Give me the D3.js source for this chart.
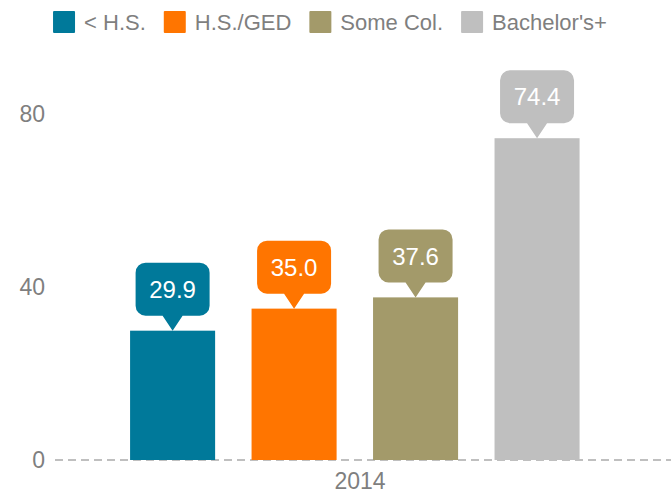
<!DOCTYPE html>
<html>
<head>
<meta charset="utf-8">
<script src="https://cdn.jsdelivr.net/npm/d3@7"></script>
<style>
  html, body { margin: 0; padding: 0; background: #fff; }
  svg { display: block; font-family: "Liberation Sans", Arial, sans-serif; }
</style>
</head>
<body>
<svg id="chart"></svg>
<script>
const years = ['2014'];
const categories = ['< H.S.', 'H.S./GED', 'Some Col.', "Bachelor's+"];
const values = [29.9, 35.0, 37.6, 74.4];
const colors = ['#00799a', '#ff7500', '#a39a6a', '#bfbfbf'];
const yTicks = [0, 40, 80];

const width = 671, height = 494;
const svg = d3.select('#chart').attr('width', width).attr('height', height);

const y = d3.scaleLinear().domain([0, 80]).range([460, 114]);
const x0 = d3.scaleBand().domain(years).range([49, 671]);
const x1 = d3.scaleBand()
  .domain(categories)
  .range([0, x0.bandwidth()])
  .paddingInner(0.3)
  .paddingOuter(0.71)
  .align(0.47);
const color = d3.scaleOrdinal().domain(categories).range(colors);

// baseline
svg.append('line')
  .attr('x1', 55).attr('x2', width)
  .attr('y1', y(0)).attr('y2', y(0))
  .attr('stroke', '#bfbfbf')
  .attr('stroke-width', 2)
  .attr('stroke-dasharray', '8 5');

// y axis
const yAxis = svg.append('g')
  .attr('transform', 'translate(55,0)')
  .call(d3.axisLeft(y).tickValues(yTicks).tickSize(0).tickPadding(10));
yAxis.select('.domain').remove();
yAxis.selectAll('text')
  .style('font-size', '23px')
  .style('font-family', '"Liberation Sans", Arial, sans-serif')
  .attr('fill', '#7f7f7f');

// x axis
const xAxis = svg.append('g')
  .attr('transform', `translate(0,${y(0)})`)
  .call(d3.axisBottom(x0).tickSize(0).tickPadding(13));
xAxis.select('.domain').remove();
xAxis.selectAll('text')
  .style('font-size', '23px')
  .style('font-family', '"Liberation Sans", Arial, sans-serif')
  .attr('fill', '#7f7f7f');

const rows = categories.map((c, i) => ({ year: years[0], cat: c, value: values[i] }));

const groups = svg.selectAll('.year')
  .data(years)
  .enter()
  .append('g')
  .attr('class', 'year')
  .attr('transform', d => `translate(${x0(d)},0)`);

groups.selectAll('rect')
  .data(d => rows.filter(r => r.year === d))
  .enter()
  .append('rect')
  .attr('x', d => x1(d.cat))
  .attr('y', d => y(d.value))
  .attr('width', x1.bandwidth())
  .attr('height', d => y(0) - y(d.value))
  .attr('fill', d => color(d.cat));

// callout bubbles
function bubblePath(cx, tipY) {
  const w = 74, h = 53, r = 10, t = 15, hb = 10;
  const left = cx - w / 2, right = cx + w / 2;
  const bottom = tipY - t, top = bottom - h;
  const p = d3.path();
  p.moveTo(left + r, top);
  p.lineTo(right - r, top);
  p.arcTo(right, top, right, top + r, r);
  p.lineTo(right, bottom - r);
  p.arcTo(right, bottom, right - r, bottom, r);
  p.lineTo(cx + hb, bottom);
  p.lineTo(cx, tipY);
  p.lineTo(cx - hb, bottom);
  p.lineTo(left + r, bottom);
  p.arcTo(left, bottom, left, bottom - r, r);
  p.lineTo(left, top + r);
  p.arcTo(left, top, left + r, top, r);
  p.closePath();
  return p.toString();
}

const callouts = groups.selectAll('.callout')
  .data(d => rows.filter(r => r.year === d))
  .enter()
  .append('g')
  .attr('class', 'callout');

callouts.append('path')
  .attr('d', d => bubblePath(x1(d.cat) + x1.bandwidth() / 2, y(d.value)))
  .attr('fill', d => color(d.cat));

callouts.append('text')
  .attr('x', d => x1(d.cat) + x1.bandwidth() / 2)
  .attr('y', d => y(d.value) - 15 - 26.5)
  .attr('dy', '0.36em')
  .attr('text-anchor', 'middle')
  .attr('fill', '#fff')
  .style('font-size', '24px')
  .text(d => d.value.toFixed(1));

// legend
const legend = svg.append('g').attr('class', 'legend');
const items = legend.selectAll('g')
  .data(categories)
  .enter()
  .append('g');
items.append('rect')
  .attr('width', 22).attr('height', 22)
  .attr('y', 11)
  .attr('rx', 1)
  .attr('fill', d => color(d));
items.append('text')
  .attr('x', 31)
  .attr('y', 30)
  .attr('fill', '#7f7f7f')
  .style('font-size', '22px')
  .text(d => d);

let offset = 0;
items.each(function () {
  const w = d3.select(this).select('text').node().getComputedTextLength();
  d3.select(this).attr('transform', `translate(${offset},0)`);
  offset += 31 + w + 18;
});
const total = offset - 18;
legend.attr('transform', `translate(${330 - total / 2},0)`);
</script>
</body>
</html>
